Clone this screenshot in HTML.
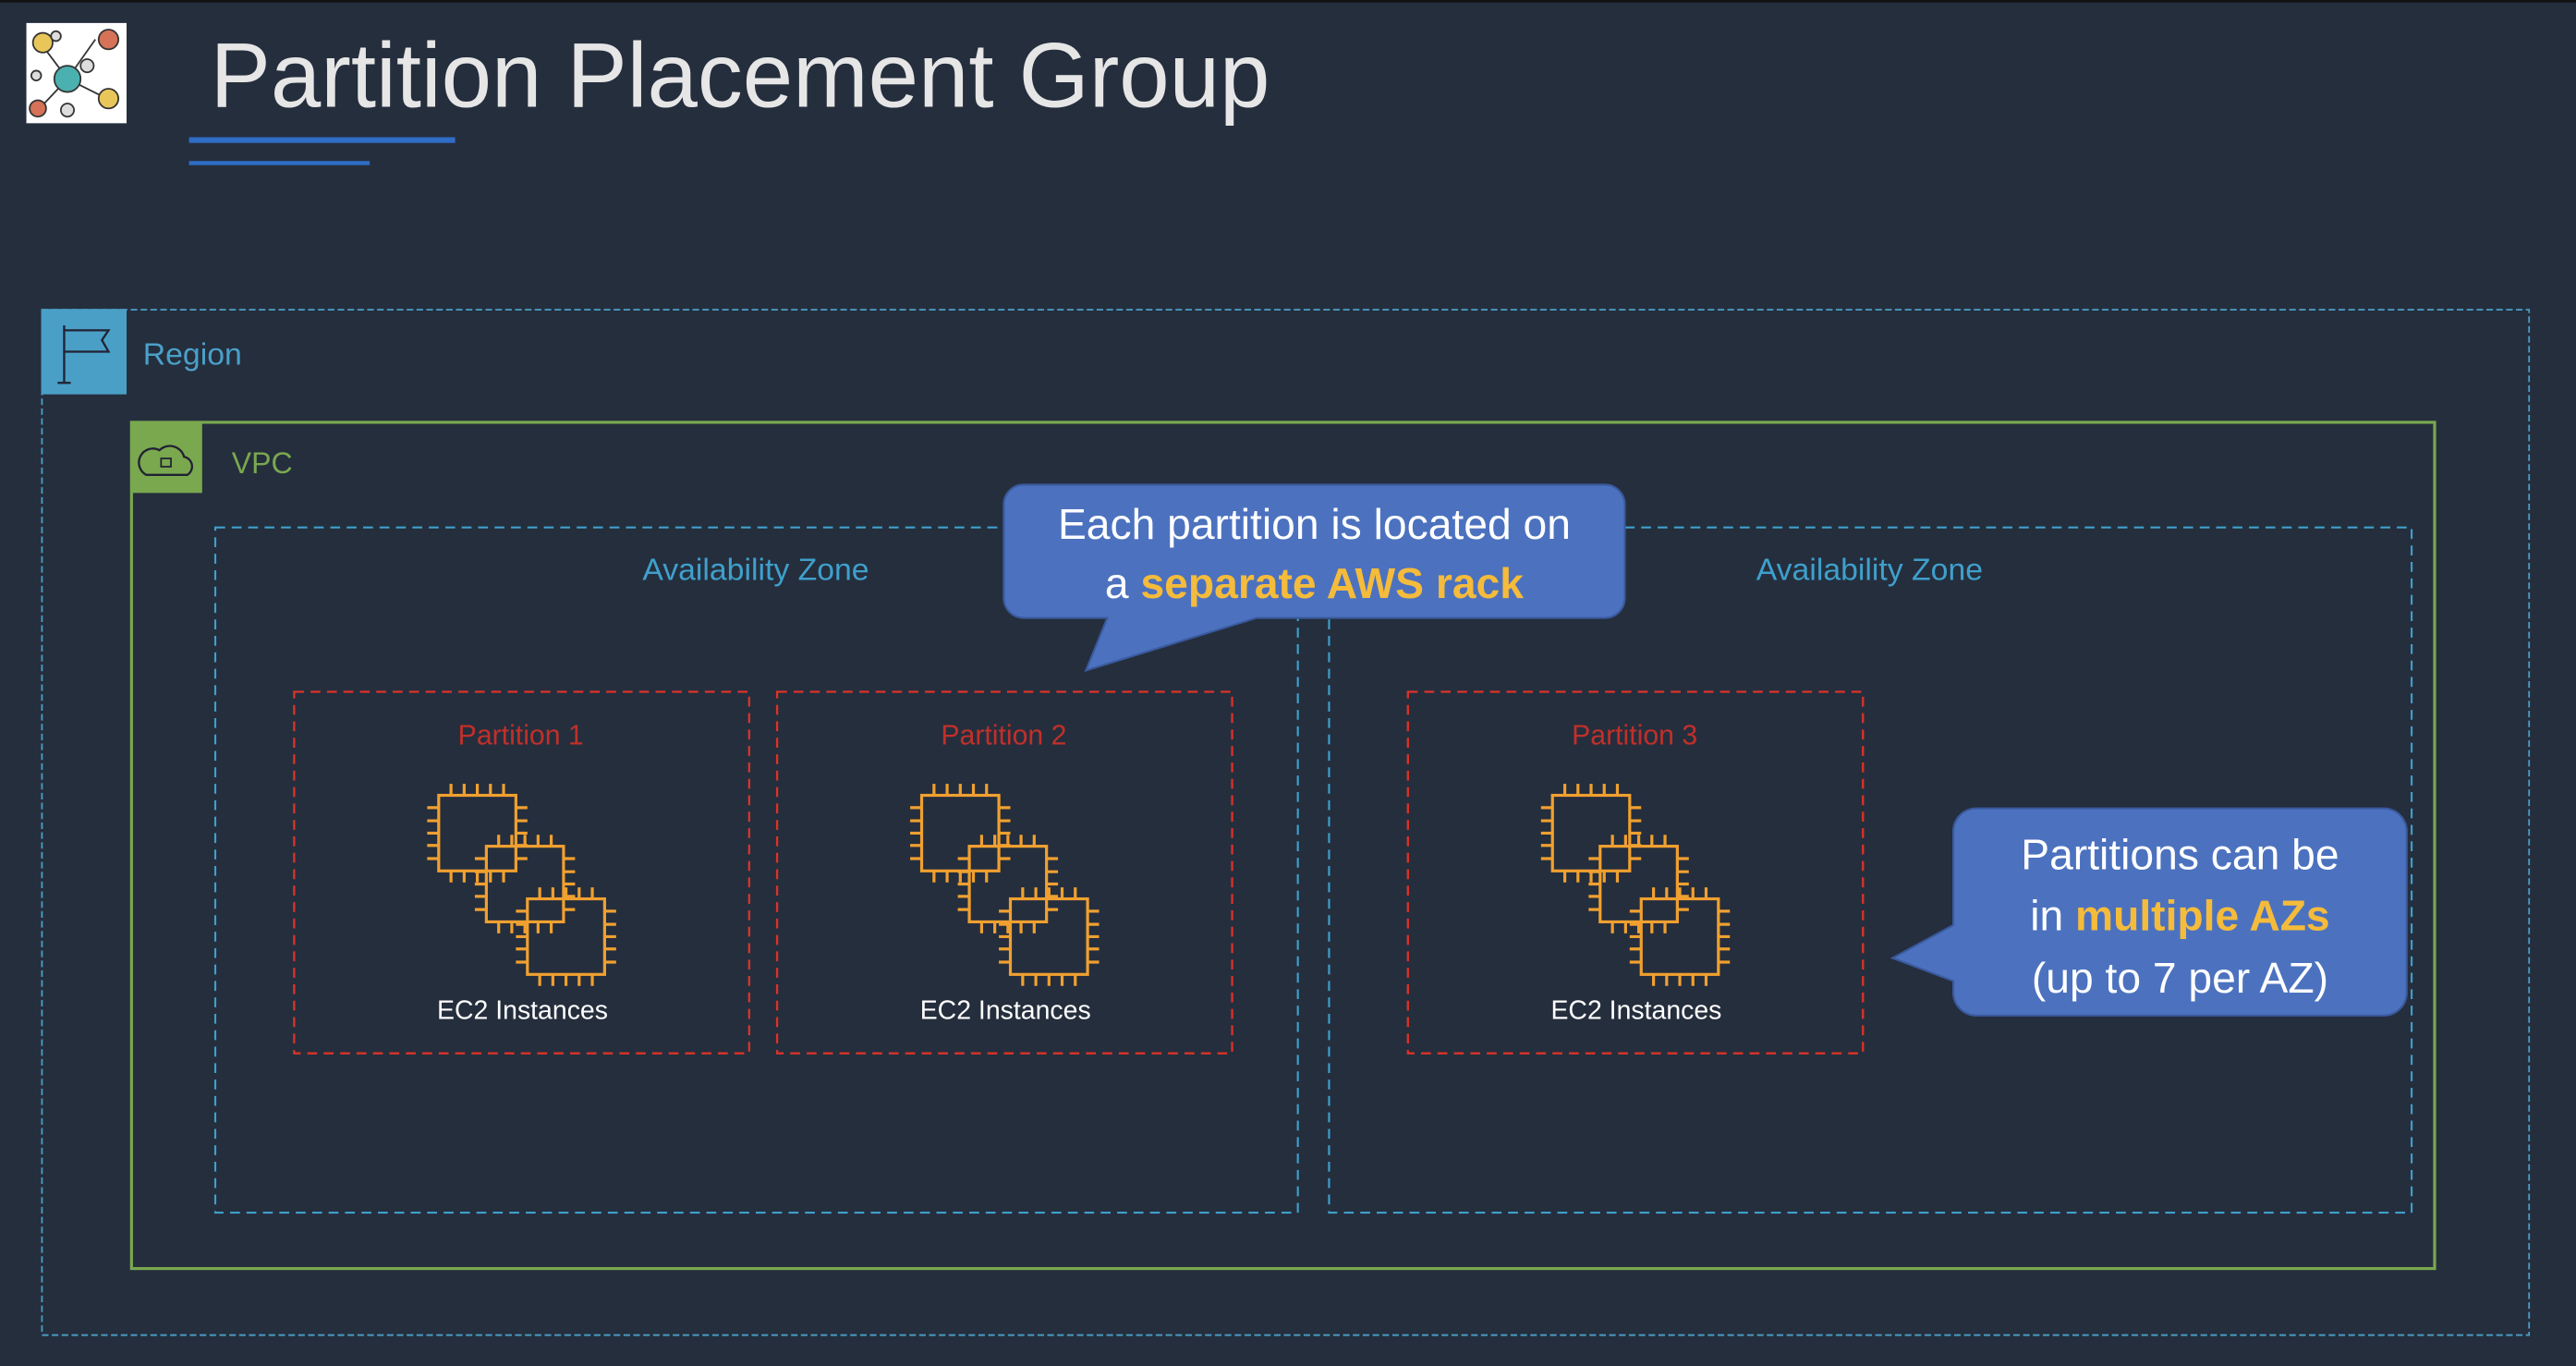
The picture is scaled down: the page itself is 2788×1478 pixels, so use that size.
<!DOCTYPE html>
<html><head><meta charset="utf-8"><style>
html,body{margin:0;padding:0;background:#252e3d;}
svg{display:block;}
text{font-family:"Liberation Sans",sans-serif;}
</style></head><body>
<svg width="2788" height="1478" viewBox="0 0 1568 831.3" xmlns="http://www.w3.org/2000/svg">
<defs>
<g id="chip" fill="none" stroke="#f0a030" stroke-width="1.8">
<rect x="0" y="0" width="47" height="46"/>
<path d="M7.5 0v-7M15.5 0v-7M23.5 0v-7M31.5 0v-7M39.5 0v-7M7.5 46v7M15.5 46v7M23.5 46v7M31.5 46v7M39.5 46v7M0 7.5h-7M0 15.5h-7M0 23h-7M0 30.5h-7M0 38.5h-7M47 7.5h7M47 15.5h7M47 23h7M47 30.5h7M47 38.5h7"/>
</g>
<g id="ec2">
<use href="#chip" x="267" y="484"/>
<use href="#chip" x="296" y="515"/>
<use href="#chip" x="321" y="547"/>
<text x="318" y="620" font-size="16" fill="#fff" text-anchor="middle">EC2 Instances</text>
</g>
</defs>
<rect width="1568" height="832" fill="#252e3d"/>
<rect width="1568" height="1.5" fill="#111"/>
<!-- logo -->
<rect x="16" y="14" width="61" height="61" fill="#fff"/>
<g stroke="#333" stroke-width="1">
<line x1="41" y1="48" x2="58" y2="24"/><line x1="41" y1="48" x2="65" y2="60"/><line x1="41" y1="48" x2="26" y2="28"/><line x1="41" y1="48" x2="24" y2="66"/>
<circle cx="41" cy="48" r="8" fill="#4bb0b0"/>
<circle cx="26" cy="26" r="6" fill="#e9c65a"/>
<circle cx="66" cy="24" r="6" fill="#d57257"/>
<circle cx="66" cy="60" r="6" fill="#e9c65a"/>
<circle cx="23" cy="66" r="5" fill="#d57257"/>
<circle cx="41" cy="67" r="4" fill="#ddd"/>
<circle cx="53" cy="40" r="4" fill="#ddd"/>
<circle cx="34" cy="22" r="3" fill="#ddd"/>
<circle cx="22" cy="46" r="3" fill="#ddd"/>
</g>
<text x="128" y="65" font-size="56" fill="#e6e6e6" textLength="645" lengthAdjust="spacingAndGlyphs">Partition Placement Group</text>
<rect x="115" y="83.5" width="162" height="3.5" fill="#2f6dc6"/>
<rect x="115" y="98" width="110" height="2.5" fill="#2f6dc6"/>
<!-- Region -->
<rect x="25.5" y="188.5" width="1514" height="624" fill="none" stroke="#4aa0c8" stroke-width="1" stroke-dasharray="4,2"/>
<rect x="25" y="188" width="52" height="52" fill="#4a9fc6"/>
<g stroke="#223" stroke-width="1.3" fill="none"><line x1="39" y1="198" x2="39" y2="233"/><line x1="35" y1="233" x2="43" y2="233"/><path d="M39 201h27l-4 6 4 7h-27"/></g>
<text x="87" y="222" font-size="19" fill="#4aa0c8">Region</text>
<!-- VPC -->
<rect x="80" y="257" width="1402" height="515" fill="none" stroke="#7aa84f" stroke-width="1.8"/>
<rect x="80" y="257" width="43" height="43" fill="#7aa84f"/>
<path d="M89 289h25a6 6 0 0 0 -2 -11a9 9 0 0 0 -15 -4a7 7 0 0 0 -8 15z" fill="none" stroke="#223" stroke-width="1.3"/>
<rect x="98" y="279" width="6" height="5" fill="none" stroke="#223" stroke-width="1"/>
<text x="141" y="288" font-size="18" fill="#7aa84f">VPC</text>
<!-- AZs -->
<rect x="131" y="321" width="659" height="417" fill="none" stroke="#3fa0cc" stroke-width="1.2" stroke-dasharray="6,4"/>
<rect x="809" y="321" width="659" height="417" fill="none" stroke="#3fa0cc" stroke-width="1.2" stroke-dasharray="6,4"/>
<text x="460" y="353" font-size="19" fill="#3fa0cc" text-anchor="middle">Availability Zone</text>
<text x="1138" y="353" font-size="19" fill="#3fa0cc" text-anchor="middle">Availability Zone</text>
<!-- Partitions -->
<g fill="none" stroke="#dc3228" stroke-width="1.3" stroke-dasharray="6,4">
<rect x="179" y="421" width="277" height="220"/>
<rect x="473" y="421" width="277" height="220"/>
<rect x="857" y="421" width="277" height="220"/>
</g>
<g font-size="17" fill="#c0302a" text-anchor="middle">
<text x="317" y="453">Partition 1</text>
<text x="611" y="453">Partition 2</text>
<text x="995" y="453">Partition 3</text>
</g>
<use href="#ec2"/>
<use href="#ec2" x="294"/>
<use href="#ec2" x="678"/>
<!-- callout 1 -->
<path d="M623 295H977a12 12 0 0 1 12 12V364a12 12 0 0 1 -12 12H765L661 408L674 376H623a12 12 0 0 1 -12 -12V307a12 12 0 0 1 12 -12z" fill="#4c72bf" stroke="#3a5a9e" stroke-width="1.2"/>
<text x="800" y="328" font-size="26" fill="#fff" text-anchor="middle">Each partition is located on</text>
<text x="800" y="364" font-size="26" fill="#fff" text-anchor="middle">a <tspan fill="#f5bb3b" font-weight="bold">separate AWS rack</tspan></text>
<!-- callout 2 -->
<path d="M1203 492H1451a14 14 0 0 1 14 14V604a14 14 0 0 1 -14 14H1203a14 14 0 0 1 -14 -14V597L1152 583L1189 563V506a14 14 0 0 1 14 -14z" fill="#4c72bf" stroke="#3a5a9e" stroke-width="1.2"/>
<text x="1327" y="529" font-size="26" fill="#fff" text-anchor="middle">Partitions can be</text>
<text x="1327" y="566" font-size="26" fill="#fff" text-anchor="middle">in <tspan fill="#f5bb3b" font-weight="bold">multiple AZs</tspan></text>
<text x="1327" y="604" font-size="26" fill="#fff" text-anchor="middle">(up to 7 per AZ)</text>
</svg>
</body></html>
